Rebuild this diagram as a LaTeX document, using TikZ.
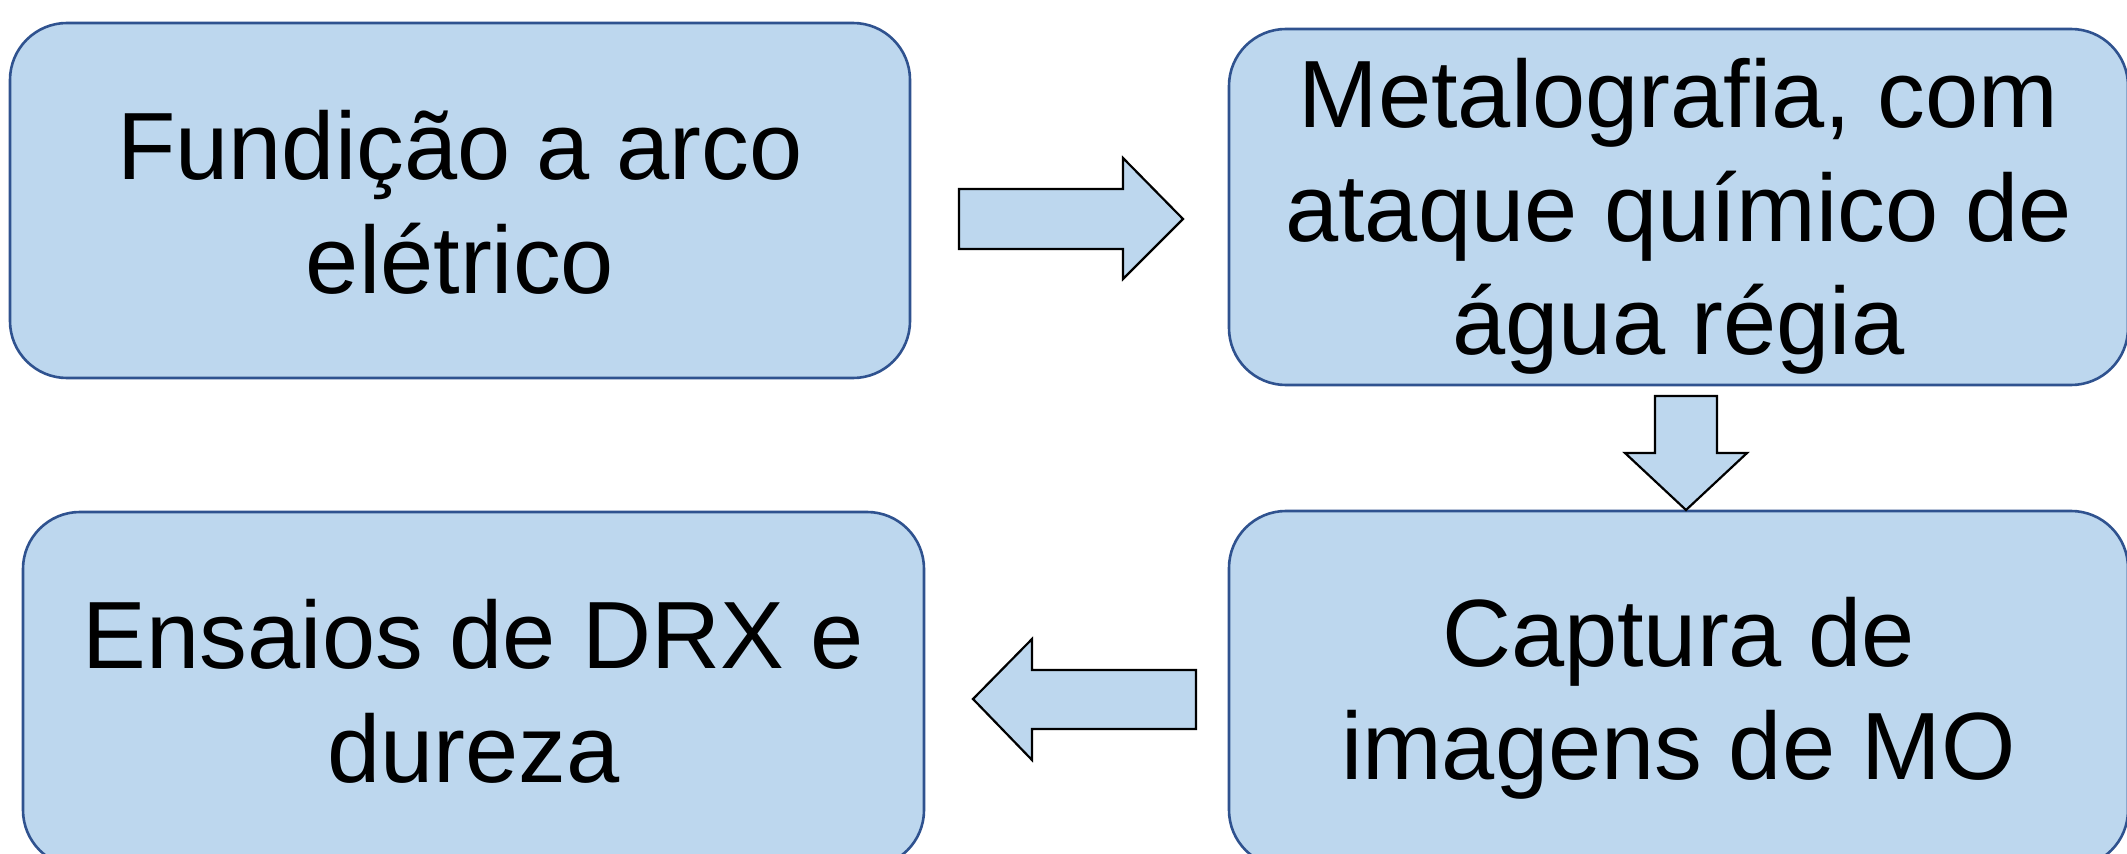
\documentclass[tikz,border=0pt]{standalone}
\usepackage{fontspec}
\setmainfont{Liberation Sans}
\definecolor{boxfill}{RGB}{189,215,238}
\definecolor{boxline}{RGB}{47,82,143}
\newcommand\lnstrut{\vrule height 22mm depth 4mm width 0pt}
\begin{document}
\begin{tikzpicture}[x=0.25mm,y=-0.25mm,
  stepbox/.style={draw=boxline, line width=0.65mm, fill=boxfill,
    rounded corners=14.25mm, align=center, inner sep=0pt,
    font=\fontsize{68}{80.7}\selectfont},
  blockarrow/.style={draw=black, line width=0.55mm, fill=boxfill, line join=miter}]
\useasboundingbox (0,0) rectangle (2127,854);
\clip (0,0) rectangle (2127,854);
\fill[white] (0,0) rectangle (2127,854);

\node[stepbox, minimum width=225mm, minimum height=88.75mm] (b1) at (460,200.5)
  {\lnstrut Fundição a arco\\\lnstrut elétrico};
\node[stepbox, minimum width=224.75mm, minimum height=89mm] (b2) at (1678.5,207)
  {\lnstrut Metalografia, com\\\lnstrut ataque químico de\\\lnstrut água régia};
\node[stepbox, minimum width=224.75mm, minimum height=89mm] (b4) at (1678.5,689)
  {\lnstrut Captura de\\\lnstrut imagens de MO};
\node[stepbox, minimum width=225.25mm, minimum height=88.75mm] (b3) at (473.5,689.5)
  {\lnstrut Ensaios de DRX e\\\lnstrut dureza};

% block arrows
\draw[blockarrow] (959,189) -- (1123,189) -- (1123,158) -- (1183,219)
  -- (1123,279) -- (1123,249) -- (959,249) -- cycle;
\draw[blockarrow] (1655,396) -- (1717,396) -- (1717,453) -- (1747,453)
  -- (1686,510) -- (1625,453) -- (1655,453) -- cycle;
\draw[blockarrow] (1196,670) -- (1032,670) -- (1032,639) -- (973,699)
  -- (1032,760) -- (1032,729) -- (1196,729) -- cycle;
\end{tikzpicture}
\end{document}
